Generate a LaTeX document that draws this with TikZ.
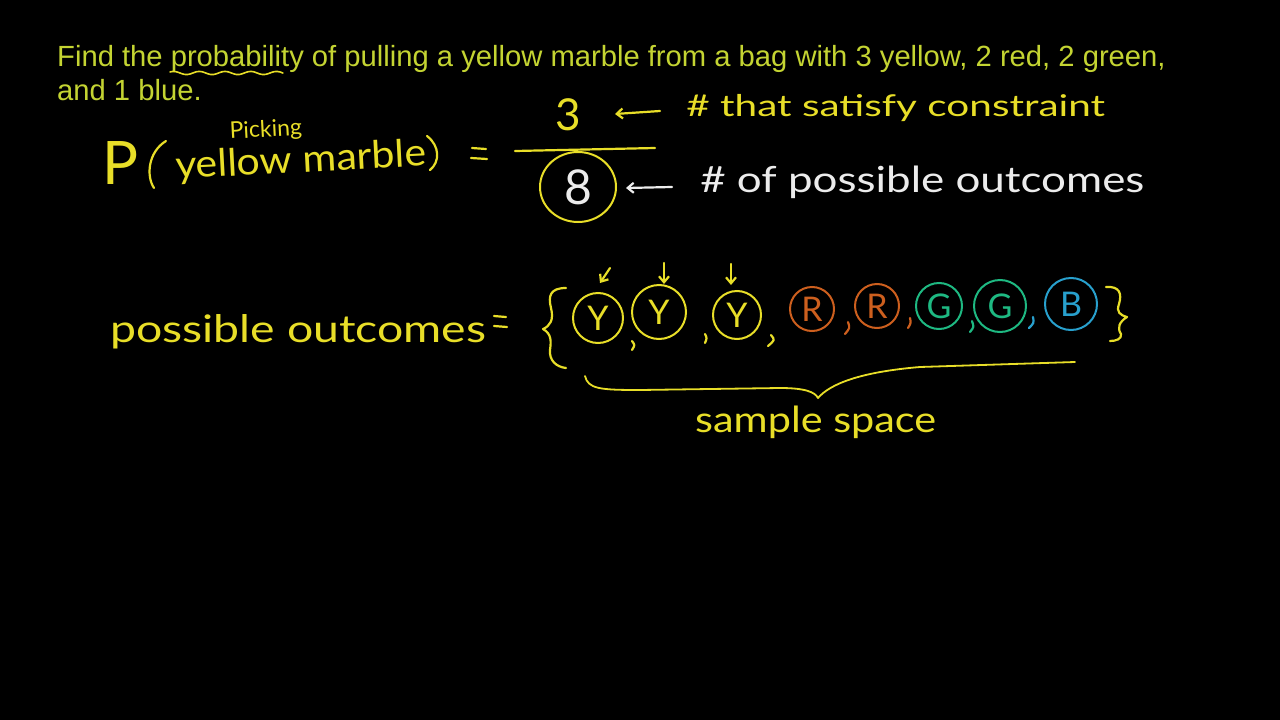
\documentclass[tikz,border=0pt]{standalone}
\usepackage{fontspec}
\setmainfont{Liberation Sans}
\newfontfamily\hw{Lato}
\usetikzlibrary{arrows.meta,shapes.geometric}
\definecolor{titleyellow}{RGB}{196,212,50}
\definecolor{hwyellow}{RGB}{232,222,40}
\definecolor{hwwhite}{RGB}{236,236,236}
\definecolor{hworange}{RGB}{205,95,30}
\definecolor{hwgreen}{RGB}{30,185,130}
\definecolor{hwblue}{RGB}{40,160,205}
\begin{document}
\begin{tikzpicture}[x=1pt,y=-1pt,
  title/.style={font=\fontsize{29.2}{33}\selectfont, text=titleyellow, inner sep=0pt, anchor=base west},
  hwtext/.style={inner sep=0pt, anchor=base west},
  stroke/.style={line width=2.2pt, line cap=round, line join=round},
  marble/.style={circle, draw, line width=2pt, inner sep=0pt, font=\hw\fontsize{34}{36}\selectfont},
  barb/.style={-{Straight Barb[length=6pt,width=10pt]}}
]
\useasboundingbox (0,0) rectangle (1280,720);
\fill[black] (0,0) rectangle (1280,720);

% problem text
\node[title] (t1) at (57,66) {Find the probability of pulling a yellow marble from a bag with 3 yellow, 2 red, 2 green,};
\node[title] (t2) at (57,100) {and 1 blue.};
\draw[hwyellow, line width=1.6pt, line cap=round] plot[domain=170:283, samples=40, smooth] (\x, {73+1.6*sin(\x*14)});

% P(picking yellow marble)
\node[hwtext, text=hwyellow, font=\hw\fontsize{60}{62}\selectfont] (P) at (102,184) {P};
\draw[stroke, hwyellow] (166,141) .. controls (148,152) and (146,176) .. (154,188);
\node[hwtext, text=hwyellow, font=\hw\fontsize{23}{25}\selectfont, rotate=3] (pick) at (230,139) {Picking};
\node[hwtext, text=hwyellow, font=\hw\fontsize{38}{40}\selectfont, rotate=3, xscale=1.08] (ym) at (176,179) {yellow marble};
\draw[stroke, hwyellow] (427,136) .. controls (440,146) and (440,162) .. (430,170);
\draw[stroke, hwyellow] (472,148) -- (486,149);
\draw[stroke, hwyellow] (471,158) -- (487,159);

% fraction
\node[text=hwyellow, font=\hw\fontsize{44}{46}\selectfont, inner sep=0pt] (three) at (568,115) {3};
\draw[stroke, hwyellow] (515,151) -- (655,148);
\node[ellipse, draw=hwyellow, line width=2pt, minimum width=76pt, minimum height=70pt, inner sep=0pt] (eightc) at (578,187) {};
\node[text=hwwhite, font=\hw\fontsize{48}{50}\selectfont, inner sep=0pt] (eight) at (eightc) {8};

% annotations
\coordinate (a1s) at (660,111);
\coordinate (a1e) at (615,114);
\draw[stroke, hwyellow, barb] (a1s) -- (a1e);
\node[hwtext, text=hwyellow, font=\hw\fontsize{30}{32}\selectfont, xscale=1.35] (sat) at (686,116) {\# that satisfy constraint};
\coordinate (a2s) at (672,187);
\coordinate (a2e) at (626,188);
\draw[stroke, hwwhite, barb] (a2s) -- (a2e);
\node[hwtext, text=hwwhite, font=\hw\fontsize{36}{38}\selectfont, xscale=1.22] (poss) at (700,192) {\# of possible outcomes};

% possible outcomes = { ... }
\node[hwtext, text=hwyellow, font=\hw\fontsize{38}{40}\selectfont, xscale=1.22] (po) at (110,342) {possible outcomes};
\draw[stroke, hwyellow] (494,316) -- (506,317);
\draw[stroke, hwyellow] (494,326) -- (507,327);

\draw[stroke, hwyellow] (566,288) .. controls (550,288) and (548,296) .. (551,308) .. controls (554,320) and (550,326) .. (543,329) .. controls (552,334) and (551,342) .. (550,350) .. controls (549,360) and (556,367) .. (566,368);
\draw[stroke, hwyellow] (1106,287) .. controls (1120,286) and (1122,294) .. (1119,304) .. controls (1116,312) and (1120,315) .. (1127,317) .. controls (1119,322) and (1117,328) .. (1121,334) .. controls (1122,339) and (1116,341) .. (1110,341);

\node[marble, draw=hwyellow, text=hwyellow, minimum size=50pt] (y1) at (598,318) {Y};
\node[marble, draw=hwyellow, text=hwyellow, minimum size=54pt] (y2) at (659,312) {Y};
\node[marble, draw=hwyellow, text=hwyellow, minimum size=48pt] (y3) at (737,315) {Y};
\node[marble, draw=hworange, text=hworange, minimum size=44pt] (r1) at (812,309) {R};
\node[marble, draw=hworange, text=hworange, minimum size=44pt] (r2) at (877,306) {R};
\node[marble, draw=hwgreen, text=hwgreen, minimum size=46pt] (g1) at (939,306) {G};
\node[marble, draw=hwgreen, text=hwgreen, minimum size=52pt] (g2) at (1000,306) {G};
\node[marble, draw=hwblue, text=hwblue, minimum size=52pt] (b1) at (1071,304) {B};

% commas
\draw[stroke, hwyellow] (632,341) .. controls (635,345) .. (632,350);
\draw[stroke, hwyellow] (705,334) .. controls (707,338) .. (705,343);
\draw[stroke, hwyellow] (771,335) .. controls (775,340) .. (768,346);
\draw[stroke, hworange] (848,322) .. controls (850,328) .. (845,334);
\draw[stroke, hworange] (910,318) .. controls (911,323) .. (908,328);
\draw[stroke, hwgreen] (972,321) .. controls (974,327) .. (970,332);
\draw[stroke, hwblue] (1033,317) .. controls (1034,323) .. (1029,328);

% little arrows over the yellow marbles
\coordinate (k1s) at (610,268);
\coordinate (k1e) at (600,283);
\draw[stroke, hwyellow, barb] (k1s) -- (k1e);
\coordinate (k2s) at (664,263);
\coordinate (k2e) at (664,284);
\draw[stroke, hwyellow, barb] (k2s) -- (k2e);
\coordinate (k3s) at (731,264);
\coordinate (k3e) at (731,285);
\draw[stroke, hwyellow, barb] (k3s) -- (k3e);

% brace under sample space
\draw[stroke, hwyellow, line width=1.8pt] (585,376) .. controls (588,389) and (600,390) .. (640,390) -- (780,388) .. controls (805,388) and (815,392) .. (818,398) .. controls (830,384) and (860,372) .. (920,367) -- (1075,362);
\node[hwtext, text=hwyellow, font=\hw\fontsize{36}{38}\selectfont, xscale=1.15] (ss) at (695,432) {sample space};
\end{tikzpicture}
\end{document}
